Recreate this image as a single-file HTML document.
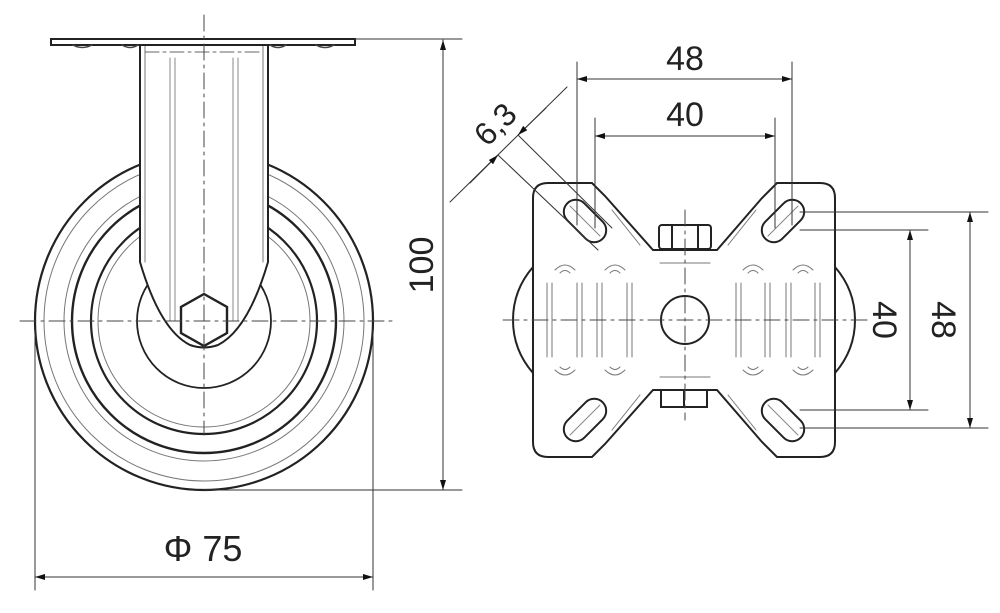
<!DOCTYPE html>
<html><head><meta charset="utf-8"><style>
html,body{margin:0;padding:0;background:#fff;}
svg{display:block;}
text{font-family:"Liberation Sans Narrow","Liberation Sans",sans-serif;fill:#222;}
</style></head><body>
<svg width="1000" height="613" viewBox="0 0 1000 613" xmlns="http://www.w3.org/2000/svg">
<defs>
<marker id="ar" viewBox="0 0 10 6" refX="10" refY="3" markerWidth="16" markerHeight="6" markerUnits="userSpaceOnUse" orient="auto-start-reverse"><path d="M0,0 L10,3 L0,6 z" fill="#111"/></marker>
</defs>
<g fill="none" stroke-linecap="round">
<!-- LEFT VIEW wheel -->
<g stroke="#222">
<circle cx="204" cy="321" r="169" stroke-width="2.2"/>
<circle cx="204" cy="321" r="160" stroke-width="1" stroke="#777"/>
<circle cx="204" cy="321" r="140" stroke-width="1" stroke="#777"/>
<circle cx="204" cy="321" r="132" stroke-width="2.4"/>
<circle cx="204" cy="321" r="113" stroke-width="2.2"/>
<circle cx="204" cy="321" r="106" stroke-width="1" stroke="#777"/>
<circle cx="204" cy="321" r="67" stroke-width="1.8"/>
</g>
<!-- fork -->
<path d="M140 45 V262 Q160 330 190 345 Q204 350 218 345 Q248 330 268 262 V45 Z" fill="#fff" stroke="#222" stroke-width="2"/>
<line x1="145" y1="45" x2="145" y2="262" stroke="#777" stroke-width="1"/>
<line x1="263" y1="45" x2="263" y2="262" stroke="#777" stroke-width="1"/>
<g stroke="#888" stroke-width="1">
<line x1="170" y1="58" x2="170" y2="321"/><line x1="175" y1="58" x2="175" y2="321"/>
<line x1="233" y1="58" x2="233" y2="321"/><line x1="238" y1="58" x2="238" y2="321"/>
</g>
<line x1="145" y1="52" x2="263" y2="52" stroke="#666" stroke-width="1" stroke-dasharray="14 4 3 4"/>
<!-- plate -->
<rect x="51" y="39" width="304" height="6" fill="#fff" stroke="#222" stroke-width="2"/>
<path d="M73 45 Q82 50 92 45 M122 45 Q130 50 138 45 M270 45 Q278 50 286 45 M316 45 Q325 50 334 45" stroke="#444" stroke-width="1.5"/>
<!-- hex -->
<polygon points="204,294 227,307 227,333 204,346 181,333 181,307" fill="#fff" stroke="#222" stroke-width="2.4"/>
<!-- centerlines -->
<g stroke="#444" stroke-width="1" stroke-dasharray="16 5 3 5">
<line x1="204" y1="15" x2="204" y2="435"/>
<line x1="20" y1="321" x2="393" y2="321"/>
</g>
<!-- dim 100 -->
<g stroke="#333" stroke-width="1">
<line x1="355" y1="39" x2="462" y2="39"/>
<line x1="204" y1="490" x2="462" y2="490"/>
<line x1="443" y1="40" x2="443" y2="490" marker-start="url(#ar)" marker-end="url(#ar)"/>
<!-- dim 75 -->
<line x1="35" y1="330" x2="35" y2="590"/>
<line x1="373" y1="330" x2="373" y2="590"/>
<line x1="35" y1="577" x2="373" y2="577" marker-start="url(#ar)" marker-end="url(#ar)"/>
</g>

<!-- RIGHT VIEW -->
<path d="M533 267 Q513 290 513 320 Q513 350 533 373" stroke="#222" stroke-width="2" fill="#fff"/>
<path d="M835 267 Q855 290 855 320 Q855 350 835 373" stroke="#222" stroke-width="2" fill="#fff"/>
<path d="M548 183 H592 L605 196 L653 250 H717 L762 198 L777 183 H820 Q835 183 835 198 V442 Q835 457 820 457 H777 L762 442 L717 390 H653 L605 444 L592 457 H548 Q533 457 533 442 V198 Q533 183 548 183 Z" fill="#fff" stroke="#222" stroke-width="2"/>
<g stroke="#777" stroke-width="1">
<line x1="612" y1="210" x2="640" y2="245"/><line x1="756" y1="210" x2="728" y2="245"/>
<line x1="612" y1="430" x2="640" y2="395"/><line x1="756" y1="430" x2="728" y2="395"/>
</g>
<!-- slots -->
<g stroke="#222" stroke-width="2" fill="#fff">
<rect x="560" y="209" width="50" height="24" rx="12" transform="rotate(45 585 221)"/>
<rect x="758" y="209" width="50" height="24" rx="12" transform="rotate(-45 783 221)"/>
<rect x="560" y="408" width="50" height="24" rx="12" transform="rotate(-45 585 420)"/>
<rect x="758" y="408" width="50" height="24" rx="12" transform="rotate(45 783 420)"/>
</g>
<g stroke="#888" stroke-width="1">
<line x1="570" y1="206" x2="600" y2="236"/><line x1="798" y1="206" x2="768" y2="236"/>
<line x1="570" y1="435" x2="600" y2="405"/><line x1="798" y1="435" x2="768" y2="405"/>
</g>
<!-- nuts -->
<g stroke="#222" stroke-width="2" fill="#fff">
<rect x="659" y="225" width="52" height="24" rx="3"/>
<line x1="672" y1="226" x2="672" y2="248"/><line x1="698" y1="226" x2="698" y2="248"/>
<rect x="661" y="390" width="46" height="17"/>
<line x1="684" y1="390" x2="684" y2="407"/>
</g>
<!-- vertical line groups -->
<g stroke="#777" stroke-width="1">
<line x1="547" y1="283" x2="547" y2="357"/><line x1="552" y1="283" x2="552" y2="357"/><line x1="577" y1="283" x2="577" y2="357"/><line x1="582" y1="283" x2="582" y2="357"/>
<line x1="597" y1="283" x2="597" y2="357"/><line x1="602" y1="283" x2="602" y2="357"/><line x1="627" y1="283" x2="627" y2="357"/><line x1="632" y1="283" x2="632" y2="357"/>
<line x1="736" y1="283" x2="736" y2="357"/><line x1="741" y1="283" x2="741" y2="357"/><line x1="765" y1="283" x2="765" y2="357"/><line x1="770" y1="283" x2="770" y2="357"/>
<line x1="786" y1="283" x2="786" y2="357"/><line x1="791" y1="283" x2="791" y2="357"/><line x1="815" y1="283" x2="815" y2="357"/><line x1="820" y1="283" x2="820" y2="357"/>
<path d="M555 270 Q565 260 575 270 M560 273 Q565 268 570 273 M605 270 Q615 260 625 270 M610 273 Q615 268 620 273 M743 270 Q753 260 763 270 M748 273 Q753 268 758 273 M793 270 Q803 260 813 270 M798 273 Q803 268 808 273"/>
<path d="M555 370 Q565 380 575 370 M560 367 Q565 372 570 367 M605 370 Q615 380 625 370 M610 367 Q615 372 620 367 M743 370 Q753 380 763 370 M748 367 Q753 372 758 367 M793 370 Q803 380 813 370 M798 367 Q803 372 808 367"/>
<line x1="660" y1="263" x2="710" y2="263"/><line x1="660" y1="377" x2="710" y2="377"/>
</g>
<circle cx="685" cy="320" r="24" fill="#fff" stroke="#222" stroke-width="2"/>
<g stroke="#444" stroke-width="1" stroke-dasharray="16 5 3 5">
<line x1="503" y1="320" x2="870" y2="320"/>
<line x1="685" y1="210" x2="685" y2="420"/>
</g>
<!-- right view dims -->
<g stroke="#333" stroke-width="1">
<line x1="577" y1="62" x2="577" y2="225"/>
<line x1="792" y1="62" x2="792" y2="225"/>
<line x1="577" y1="79" x2="792" y2="79" marker-start="url(#ar)" marker-end="url(#ar)"/>
<line x1="595" y1="118" x2="595" y2="228"/>
<line x1="775" y1="118" x2="775" y2="228"/>
<line x1="595" y1="136" x2="775" y2="136" marker-start="url(#ar)" marker-end="url(#ar)"/>
<line x1="800" y1="212" x2="988" y2="212"/>
<line x1="800" y1="230" x2="928" y2="230"/>
<line x1="800" y1="410" x2="928" y2="410"/>
<line x1="800" y1="428" x2="988" y2="428"/>
<line x1="910" y1="230" x2="910" y2="410" marker-start="url(#ar)" marker-end="url(#ar)"/>
<line x1="970" y1="212" x2="970" y2="428" marker-start="url(#ar)" marker-end="url(#ar)"/>
<!-- 6,3 -->
<line x1="450" y1="202" x2="567" y2="87"/>
<line x1="498" y1="155" x2="598" y2="250"/>
<line x1="518" y1="135" x2="612" y2="228"/>
<line x1="470" y1="183" x2="498" y2="155" marker-end="url(#ar)"/>
<line x1="546" y1="108" x2="518" y2="135" marker-end="url(#ar)"/>
</g>
</g>
<!-- text -->
<text x="203" y="561" font-size="36" text-anchor="middle">Φ 75</text>
<text x="0" y="0" font-size="34" text-anchor="middle" transform="translate(433,265) rotate(-90)">100</text>
<text x="685" y="70" font-size="34" text-anchor="middle">48</text>
<text x="685" y="126" font-size="34" text-anchor="middle">40</text>
<text x="0" y="0" font-size="34" text-anchor="middle" transform="translate(873,320) rotate(90)">40</text>
<text x="0" y="0" font-size="34" text-anchor="middle" transform="translate(932,320) rotate(90)">48</text>
<text x="0" y="0" font-size="32" text-anchor="middle" transform="translate(503,132) rotate(-45)">6,3</text>
</svg>
</body></html>
